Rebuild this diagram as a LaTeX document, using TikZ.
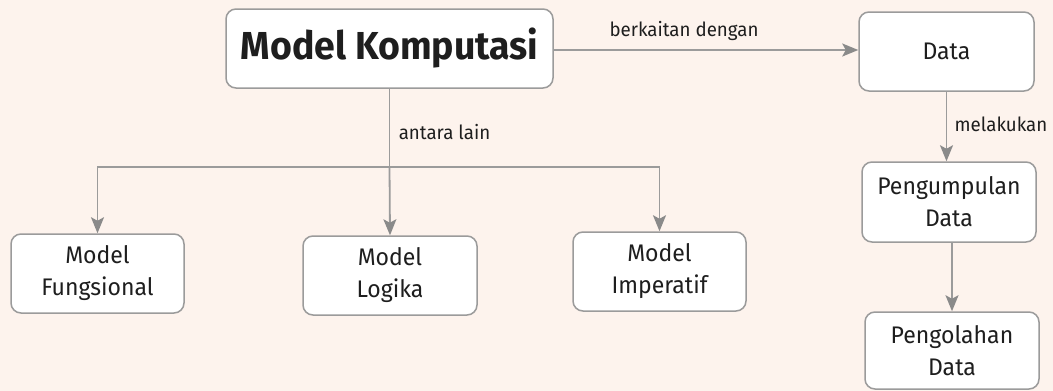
\documentclass[tikz,border=0pt]{standalone}
\usepackage{fontspec}
\setmainfont[FakeStretch=0.96]{Fira Sans}
\usetikzlibrary{arrows.meta}
\definecolor{bgc}{HTML}{FDF3ED}
\definecolor{linec}{HTML}{9B9B9B}
\definecolor{tipc}{HTML}{8A8A8A}
\definecolor{txtc}{HTML}{1E1E1E}
\tikzset{
  box/.style={draw=linec, line width=1.5pt, fill=white, rounded corners=10pt,
    inner sep=0pt, align=center, text=txtc, font=\fontsize{24}{32}\selectfont},
  conn/.style={draw=linec, line width=1.8pt},
  arr/.style={conn, -{Stealth[length=16pt,width=13pt,inset=3.5pt,fill=tipc,color=tipc]}},
  lbl/.style={text=txtc, font=\fontsize{19.5}{24}\selectfont, inner sep=0pt}
}
\begin{document}
\begin{tikzpicture}[x=1pt,y=-1pt]
\fill[bgc] (0,0) rectangle (1053,391);
\useasboundingbox (0,0) rectangle (1053,391);
\node[box, minimum width=327pt, minimum height=79pt, font=\fontsize{39}{44}\bfseries\selectfont] (mk) at (389.5,48.5) {Model Komputasi};
\node[box, minimum width=175pt, minimum height=79pt] (data) at (946.5,51.5) {Data};
\node[box, minimum width=174pt, minimum height=80pt] (pk) at (949,202) {Pengumpulan\\Data};
\node[box, minimum width=174pt, minimum height=77pt] (po) at (952,350.5) {Pengolahan\\Data};
\node[box, minimum width=173pt, minimum height=79pt] (fung) at (97.5,273.5) {Model\\Fungsional};
\node[box, minimum width=174pt, minimum height=79pt] (log) at (390,275.5) {Model\\Logika};
\node[box, minimum width=173pt, minimum height=79pt] (imp) at (659.5,271.5) {Model\\Imperatif};
\coordinate (junc) at (389.5,167);
\coordinate (mke) at (553,50);
\draw[arr] (mke) -- (mke -| data.west);
\node[lbl] (l1) at (684,31) {berkaitan dengan};
\draw[conn] (mk.south) -- (junc);
\node[lbl] (l2) at (444.5,132) {antara lain};
\draw[arr] (junc) -| (fung.north);
\draw[arr] (junc) -| (imp.north);
\draw[arr] (junc) -- (log.north);
\draw[arr] (data.south) -- (data.south |- pk.north);
\node[lbl] (l3) at (1001,124) {melakukan};
\draw[arr] (po.north |- pk.south) -- (po.north);
\end{tikzpicture}
\end{document}
